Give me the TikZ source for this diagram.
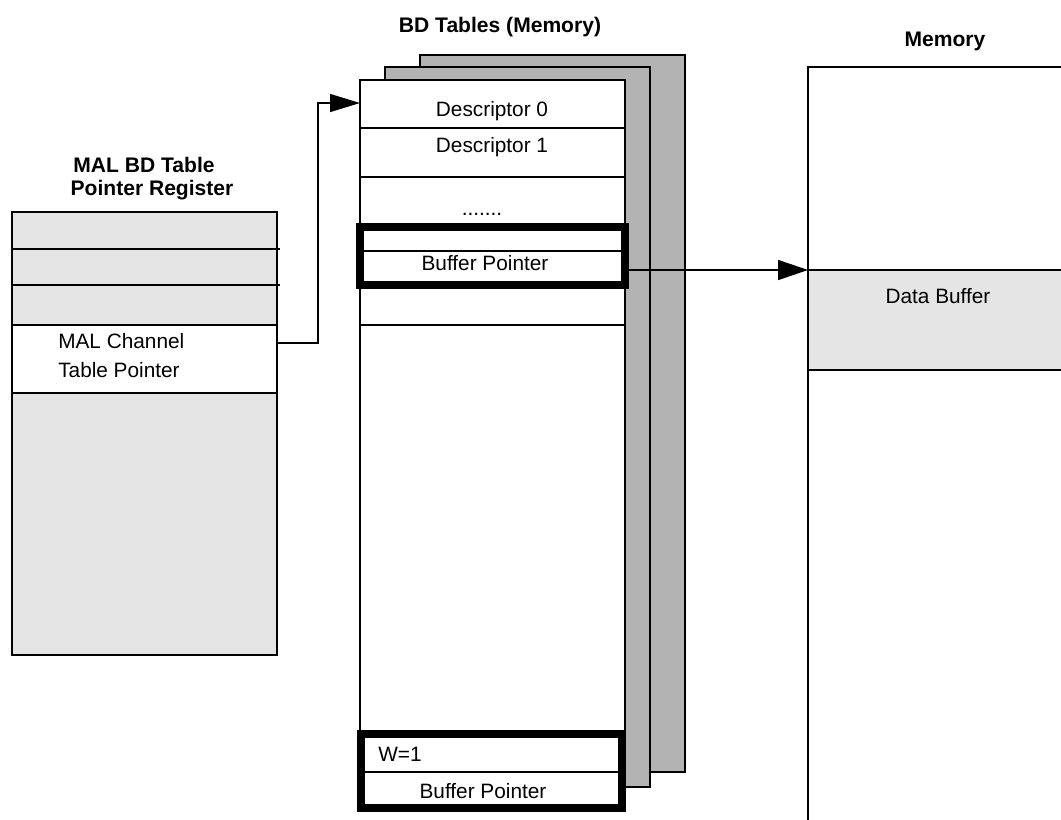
\documentclass[tikz,border=0pt]{standalone}
\usepackage{fontspec}
\setmainfont{Liberation Sans}
\usetikzlibrary{arrows.meta}
\definecolor{lightg}{HTML}{E5E5E5}
\definecolor{darkg}{HTML}{B3B3B3}
\begin{document}
\begin{tikzpicture}[x=0.75pt,y=-0.75pt,
  thinline/.style={line width=1pt},
  box/.style={draw, rectangle, inner sep=0pt, outer sep=0pt, anchor=north west, line width=1pt},
  thickbox/.style={box, line width=5.5pt},
  lbl/.style={anchor=base, inner sep=0pt, font=\fontsize{15.6}{18}\selectfont},
  ttl/.style={lbl, font=\fontsize{15.8}{18}\selectfont\bfseries},
  tipA/.style={-{Triangle[length=22.5pt,width=13.5pt]}},
  tipB/.style={-{Triangle[length=22.5pt,width=15pt]}}
]
\useasboundingbox (0,0) rectangle (1061,819);
\clip (0,0) rectangle (1061,819);

% ---------------- titles
\node[ttl] (t1) at (144,172) {MAL BD Table};
\node[ttl] (t2) at (152,195) {Pointer Register};
\node[ttl] (t3) at (500,32) {BD Tables (Memory)};
\node[ttl] (t4) at (945,46) {Memory};

% ---------------- register
\node[box, fill=lightg, minimum width=265*0.75pt, minimum height=443*0.75pt] (reg) at (12,212) {};
\node[box, fill=white, minimum width=265*0.75pt, minimum height=68*0.75pt] (regw) at (12,325) {};
\draw[thinline] (12,249) -- (280,249);
\draw[thinline] (12,285) -- (280,285);
\node[lbl, anchor=base west] (mal1) at (58,348) {MAL Channel};
\node[lbl, anchor=base west] (mal2) at (58,377) {Table Pointer};

% ---------------- BD table pages
\node[box, fill=darkg, line width=1.5pt, minimum width=265*0.75pt, minimum height=717*0.75pt] (pg3) at (420,55) {};
\node[box, fill=darkg, line width=1.5pt, minimum width=265*0.75pt, minimum height=720*0.75pt] (pg2) at (385,67) {};
\node[box, fill=white, line width=1.5pt, minimum width=265*0.75pt, minimum height=728*0.75pt] (pg1) at (360,80) {};
\draw[thinline] (360,128) -- (625,128);
\draw[thinline] (360,177) -- (625,177);
\draw[thinline] (360,251) -- (625,251);
\draw[thinline] (360,325) -- (625,325);
\draw[thinline] (361,772) -- (622,772);

\node[lbl] (d0) at (492,116) {Descriptor 0};
\node[lbl] (d1) at (492,152) {Descriptor 1};
\node[lbl] (dots) at (482,215) {.......};
\node[lbl] (bp1) at (485,270) {Buffer Pointer};
\node[lbl, anchor=base west] (w1) at (378,761) {W=1};
\node[lbl] (bp2) at (483,798) {Buffer Pointer};

% ---------------- memory
\node[box, fill=lightg, draw=none, minimum width=260*0.75pt, minimum height=100*0.75pt] (dbuf) at (808,270) {};
\draw[line width=1.2pt] (808,270) -- (1070,270);
\draw[line width=1.5pt] (808,370) -- (1070,370);
\draw[line width=1.2pt] (808,820) -- (808,67) -- (1070,67);
\draw[line width=2pt] (808,270) -- (808,370);
\node[lbl] (dbt) at (938,303) {Data Buffer};

% ---------------- connectors
\coordinate (regout) at (277,343);
\coordinate (d0in) at (360,103);
\coordinate (bpout) at (625,270);
\draw[thinline, tipA] (regout) -- (318,343) |- (d0in);
\draw[line width=1.2pt, tipB] (bpout) -- (dbuf.north west);

% ---------------- thick boxes
\node[thickbox, minimum width=265*0.75pt, minimum height=58*0.75pt] (tb1) at (360,227) {};
\node[thickbox, minimum width=261*0.75pt, minimum height=74*0.75pt] (tb2) at (361,734) {};
\end{tikzpicture}
\end{document}
